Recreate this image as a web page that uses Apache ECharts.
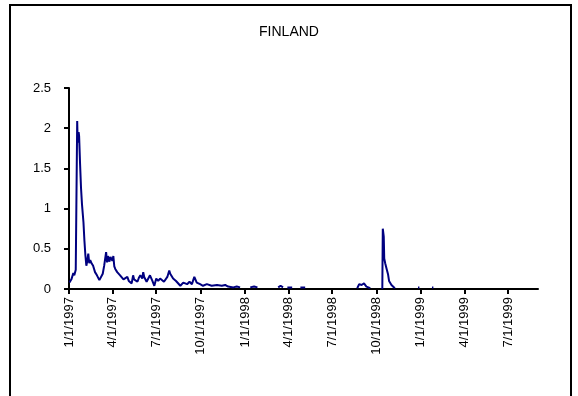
<!DOCTYPE html>
<html>
<head>
<meta charset="utf-8">
<script src="https://cdn.jsdelivr.net/npm/echarts@6/dist/echarts.min.js"></script>
<style>
html,body{margin:0;padding:0;background:#fff;}
#c{width:578px;height:396px;}
</style>
</head>
<body>
<div id="c"></div>
<script>
const title = 'FINLAND';
const tickDates = ['1997-01-01','1997-04-01','1997-07-01','1997-10-01','1998-01-01','1998-04-01','1998-07-01','1998-10-01','1999-01-01','1999-04-01','1999-07-01'];
const dates = [
'1997-01-02','1997-01-06','1997-01-10','1997-01-12','1997-01-15','1997-01-16','1997-01-18','1997-01-19','1997-01-21','1997-01-22',
'1997-01-24','1997-01-26','1997-01-28','1997-01-31','1997-02-02','1997-02-04','1997-02-06','1997-02-08','1997-02-10','1997-02-12',
'1997-02-14','1997-02-16','1997-02-18','1997-02-20','1997-02-24','1997-02-28','1997-03-02','1997-03-05','1997-03-07','1997-03-09',
'1997-03-12','1997-03-15','1997-03-19','1997-03-21','1997-03-23','1997-03-26','1997-03-28','1997-04-01','1997-04-03','1997-04-05',
'1997-04-07','1997-04-11','1997-04-14','1997-04-17','1997-04-21','1997-04-24','1997-04-28','1997-05-02','1997-05-05','1997-05-08',
'1997-05-11','1997-05-14','1997-05-16','1997-05-18','1997-05-23','1997-05-26','1997-05-29','1997-06-02','1997-06-04','1997-06-06',
'1997-06-08','1997-06-11','1997-06-14','1997-06-18','1997-06-23','1997-06-27','1997-07-01','1997-07-05','1997-07-09','1997-07-13',
'1997-07-17','1997-07-24','1997-07-28','1997-07-30','1997-08-01','1997-08-05','1997-08-11','1997-08-13','1997-08-20','1997-08-26',
'1997-09-03','1997-09-08','1997-09-13','1997-09-18','1997-09-23','1997-09-30','1997-10-06','1997-10-14','1997-10-24','1997-11-04',
'1997-11-14','1997-11-21','1997-11-27','1997-12-08','1997-12-15','1997-12-22','1997-12-24',
'1998-01-10','1998-01-12','1998-01-20','1998-01-27','1998-01-29',
'1998-03-09','1998-03-11','1998-03-16','1998-03-21','1998-03-24',
'1998-03-28','1998-03-30','1998-04-09','1998-04-12',
'1998-04-24','1998-04-26','1998-05-06','1998-05-08',
'1998-08-20','1998-08-22','1998-08-26','1998-08-31','1998-09-05','1998-09-10','1998-09-18','1998-09-20',
'1998-10-11','1998-10-13','1998-10-14','1998-10-16','1998-10-17','1998-10-19','1998-10-22','1998-10-25','1998-10-27','1998-11-01','1998-11-08','1998-11-10',
'1998-12-24','1998-12-26','1998-12-29','1998-12-31',
'1999-01-22','1999-01-24','1999-01-27','1999-01-29'
];
const values = [
0.08,0.12,0.20,0.17,0.24,0.26,2.09,1.82,1.95,1.90,
1.55,1.25,1.05,0.83,0.60,0.42,0.29,0.35,0.44,0.32,
0.36,0.33,0.35,0.29,0.21,0.17,0.15,0.11,0.09,0.12,
0.19,0.29,0.46,0.33,0.41,0.34,0.40,0.35,0.41,0.28,
0.25,0.21,0.19,0.17,0.15,0.12,0.11,0.15,0.10,0.11,
0.07,0.17,0.12,0.13,0.09,0.14,0.17,0.13,0.21,0.15,
0.13,0.09,0.07,0.17,0.10,0.04,0.13,0.10,0.13,0.11,
0.09,0.15,0.23,0.19,0.17,0.13,0.10,0.08,0.04,0.08,
0.06,0.09,0.06,0.15,0.08,0.06,0.04,0.06,0.04,0.05,
0.04,0.05,0.03,0.02,0.03,0.02,null,
null,0.02,0.03,0.02,null,
null,0.02,0.04,0.02,null,
null,0.02,0.02,null,
null,0.02,0.02,null,
null,0.01,0.06,0.05,0.07,0.03,0.01,null,
null,0.0,0.75,0.65,0.38,0.32,0.25,0.18,0.10,0.05,0.01,null,
null,0.02,0.02,null,
null,0.02,0.02,null
];
const yMin = 0, yMax = 2.5, yStep = 0.5;

function toTs(s){ const p = s.split('-'); return new Date(+p[0], +p[1]-1, +p[2]).getTime(); }
const seriesData = dates.map((d,i)=>[toTs(d), values[i]]);
const ticks = tickDates.map(toTs);

const chart = echarts.init(document.getElementById('c'), null, {renderer:'canvas'});
const font = 'Liberation Sans, Arial, sans-serif';
chart.setOption({
  animation:false,
  backgroundColor:'#fff',
  title:{text:title, left:'center', top:20, textStyle:{fontFamily:font, fontSize:14, fontWeight:'normal', color:'#000'}},
  graphic:[{type:'rect', shape:{x:10, y:5, width:561, height:400}, style:{fill:'none', stroke:'#000', lineWidth:2}}],
  grid:{left:69, right:40, top:88, bottom:107},
  xAxis:{
    type:'value',
    min:toTs('1997-01-01'), max:toTs('1999-09-01'),
    axisLine:{lineStyle:{color:'#000', width:2}},
    axisTick:{customValues:ticks, length:5, lineStyle:{color:'#000', width:2}},
    axisLabel:{customValues:ticks, rotate:90, margin:8, color:'#000', fontFamily:font, fontSize:13,
      formatter:function(v){const d=new Date(v);return (d.getMonth()+1)+'/'+d.getDate()+'/'+d.getFullYear();}},
    splitLine:{show:false}
  },
  yAxis:{
    type:'value', min:yMin, max:yMax, interval:yStep,
    axisLine:{show:true, lineStyle:{color:'#000', width:2}},
    axisTick:{show:true, length:5, lineStyle:{color:'#000', width:2}},
    axisLabel:{color:'#000', fontFamily:font, fontSize:13, margin:18},
    splitLine:{show:false}
  },
  series:[{
    type:'line', data:seriesData, showSymbol:false, connectNulls:false,
    lineStyle:{color:'#000080', width:2}, itemStyle:{color:'#000080'}
  }]
});
</script>
</body>
</html>
